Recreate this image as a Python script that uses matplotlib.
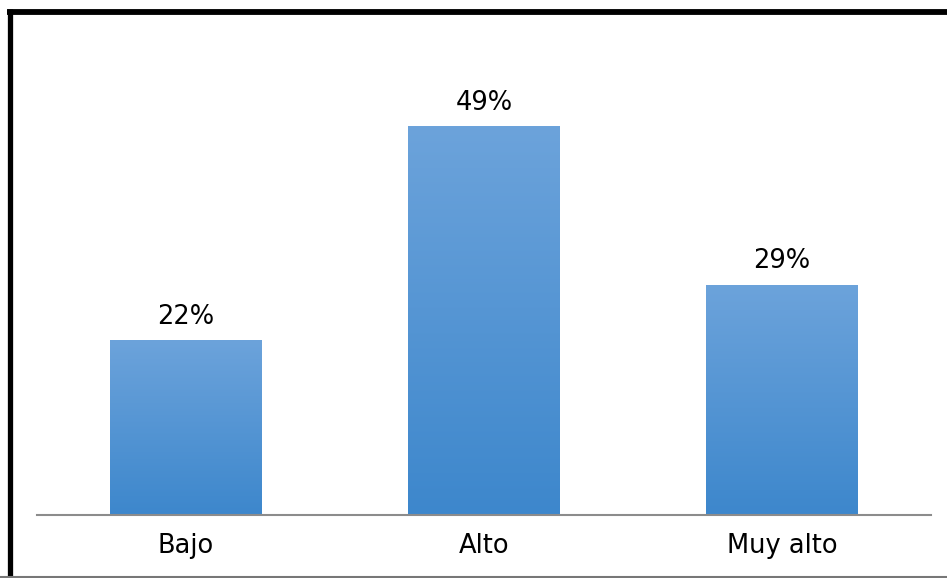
import matplotlib.pyplot as plt
import matplotlib.lines as mlines
import numpy as np

categories = ["Bajo", "Alto", "Muy alto"]
values = [22, 49, 29]
labels = ["22%", "49%", "29%"]

W, H = 947, 578
fig = plt.figure(figsize=(W / 100, H / 100), dpi=100)
ax = fig.add_axes([37 / W, 63 / H, (931 - 37) / W, (515 - 16) / H])

x = np.arange(len(categories))
bars = ax.bar(x, values, width=0.51, color="none", edgecolor="none")

# vertical gradient, lighter at top
top_c = np.array([108, 163, 219]) / 255
bot_c = np.array([61, 135, 204]) / 255
grad = np.linspace(0, 1, 256)[:, None]
img = top_c[None, None, :] * (1 - grad[..., None]) + bot_c[None, None, :] * grad[..., None]
for b, lab in zip(bars, labels):
    x0, y0 = b.get_x(), b.get_y()
    ax.imshow(img, extent=[x0, x0 + b.get_width(), y0, y0 + b.get_height()],
              aspect="auto", origin="upper", zorder=2)
    ax.text(x0 + b.get_width() / 2, b.get_height() + 1.4, lab,
            ha="center", va="bottom", fontsize=18.5, color="black")

ax.set_xlim(-0.5, len(categories) - 0.5)
ax.set_ylim(0, 63)
ax.set_xticks(x)
ax.set_xticklabels(categories, fontsize=18.5)
ax.tick_params(axis="x", length=0, pad=13)
ax.set_yticks([])
for s in ["top", "right", "left"]:
    ax.spines[s].set_visible(False)
ax.spines["bottom"].set_color("#8c8c8c")
ax.spines["bottom"].set_linewidth(1.5)
ax.spines["bottom"].set_zorder(3)

# frame around the picture (cropped on the right)
fig.add_artist(mlines.Line2D([9.5 / W, 9.5 / W], [0, 1 - 9 / H], color="black", lw=3.8,
                             transform=fig.transFigure, solid_capstyle="butt"))
fig.add_artist(mlines.Line2D([7 / W, 1], [1 - 12 / H, 1 - 12 / H], color="black", lw=4.2,
                             transform=fig.transFigure, solid_capstyle="butt"))
fig.add_artist(mlines.Line2D([0, 1], [1.5 / H, 1.5 / H], color="#777777", lw=1.5,
                             transform=fig.transFigure))

fig.savefig("out.png", dpi=100)
